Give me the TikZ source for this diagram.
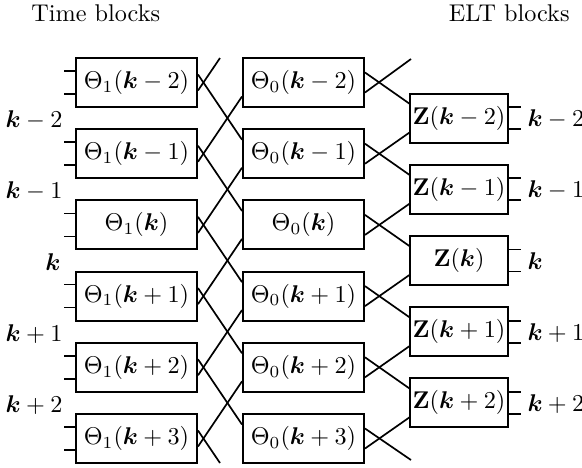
\documentclass[tikz,border=0pt]{standalone}
\usepackage{amsmath}
\usetikzlibrary{calc}
\newcommand{\kk}{\boldsymbol{k}}
\begin{document}
\begin{tikzpicture}[x=0.413pt,y=-0.413pt,
  blk/.style={draw,line width=0.8pt,minimum width=50pt,minimum height=20.2pt,inner sep=0pt},
  zblk/.style={blk,minimum width=40.2pt},
  wire/.style={line width=0.7pt},
  lbl/.style={inner sep=0pt},
  llbl/.style={lbl,anchor=east},
  rlbl/.style={lbl,anchor=west}]
\useasboundingbox (0,0) rectangle (582,467);

% column headings
\node[lbl,anchor=base west] (tt) at (31,21) {Time blocks};
\node[lbl,anchor=base east] (et) at (570,21) {ELT blocks};

% time blocks Theta_1 and Theta_0
\foreach \lab [count=\j] in {{-2},{-1},{},{+1},{+2},{+3}} {
  \pgfmathsetmacro\cy{82.5+71.2*(\j-1)}
  \node[blk] (ta\j) at (136.5,\cy) {$\Theta_1(\kk\lab)$};
  \node[blk] (tb\j) at (303.5,\cy) {$\Theta_0(\kk\lab)$};
  \draw[wire] ($(ta\j.west)+(0,-11.5)$) -- ++(-11,0);
  \draw[wire] ($(ta\j.west)+(0,11.5)$) -- ++(-11,0);
}

% ELT blocks Z
\foreach \lab [count=\j] in {{-2},{-1},{},{+1},{+2}} {
  \pgfmathsetmacro\cy{118.1+71.2*(\j-1)}
  \node[zblk] (zb\j) at (459,\cy) {$\mathbf{Z}(\kk\lab)$};
  \draw[wire] ($(zb\j.east)+(0,-11)$) -- ++(12,0);
  \draw[wire] ($(zb\j.east)+(0,11)$) -- ++(12,0);
}

% index labels, left side
\node[llbl] (ll1) at (63,120.1) {$\kk-2$};
\node[llbl] (ll2) at (63,191.3) {$\kk-1$};
\node[llbl] (ll3) at (61,262.5) {$\kk$};
\node[llbl] (ll4) at (63,333.7) {$\kk+1$};
\node[llbl] (ll5) at (63,404.9) {$\kk+2$};

% index labels, right side
\node[rlbl] (rl1) at (527,119.1) {$\kk-2$};
\node[rlbl] (rl2) at (527,190.3) {$\kk-1$};
\node[rlbl] (rl3) at (527,261.5) {$\kk$};
\node[rlbl] (rl4) at (527,332.7) {$\kk+1$};
\node[rlbl] (rl5) at (527,403.9) {$\kk+2$};

% free ends of the outermost wires
\coordinate (d1) at (220,58);
\coordinate (d2) at (220,463);
\coordinate (d3) at (411,59);
\coordinate (d4) at (411,460);

% Theta_1 -> Theta_0 lattice
\foreach \j/\n in {1/2,2/3,3/4,4/5,5/6} {
  \draw[wire] ($(ta\j.east)+(0,-8)$) -- ($(tb\n.west)+(0,-14)$);
  \draw[wire] ($(ta\n.east)+(0,8)$) -- ($(tb\j.west)+(0,14)$);
}
\draw[wire] ($(ta1.east)+(0,8)$) -- (d1);
\draw[wire] ($(ta6.east)+(0,-8)$) -- (d2);

% Theta_0 -> Z lattice
\foreach \j/\n in {1/2,2/3,3/4,4/5,5/6} {
  \draw[wire] ($(tb\j.east)+(0,-10)$) -- ($(zb\j.west)+(0,-14.5)$);
  \draw[wire] ($(tb\n.east)+(0,10)$) -- ($(zb\j.west)+(0,14.5)$);
}
\draw[wire] ($(tb1.east)+(0,10)$) -- (d3);
\draw[wire] ($(tb6.east)+(0,-10)$) -- (d4);
\end{tikzpicture}
\end{document}
